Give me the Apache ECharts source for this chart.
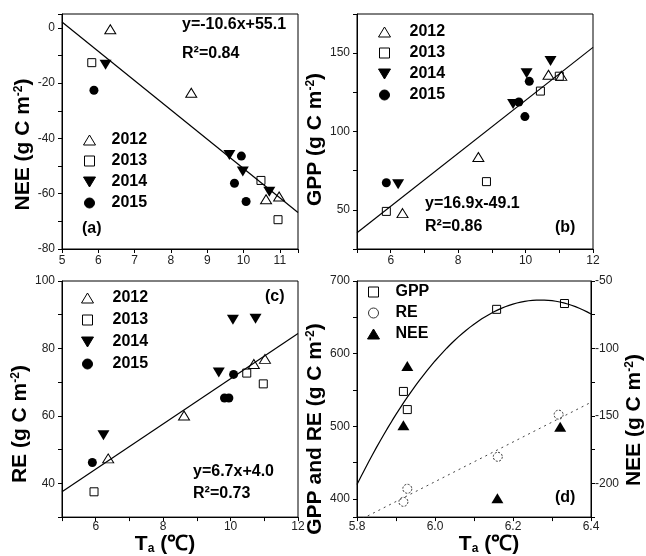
<!DOCTYPE html>
<html>
<head>
<meta charset="utf-8">
<script src="https://cdn.jsdelivr.net/npm/echarts@6/dist/echarts.min.js"></script>
<style>
html, body { margin: 0; padding: 0; background: #fff; }
#chart { width: 646px; height: 556px; }
</style>
</head>
<body>
<div id="chart"></div>
<script>
var FONT = 'Liberation Sans, Arial, Helvetica, sans-serif';

var years = ['2012', '2013', '2014', '2015'];

// (a) NEE vs Ta
var neeA2012 = [[6.33, -0.5], [8.56, -23.5], [10.62, -62.0], [10.98, -61.0]];
var neeA2013 = [[5.82, -12.6], [10.48, -55.2], [10.95, -69.4]];
var neeA2014 = [[6.20, -13.4], [9.61, -46.0], [9.98, -52.0], [10.71, -59.3]];
var neeA2015 = [[5.88, -22.6], [9.75, -56.2], [9.94, -46.4], [10.07, -62.8]];
var fitA = [-10.6, 55.1];

// (b) GPP vs Ta
var gppB2012 = [[6.35, 47.9], [8.60, 83.7], [10.68, 136.2], [11.06, 135.5]];
var gppB2013 = [[5.87, 49.0], [8.84, 68.0], [10.44, 125.8], [11.00, 135.3]];
var gppB2014 = [[6.22, 66.4], [9.63, 117.5], [10.03, 137.2], [10.74, 145.0]];
var gppB2015 = [[5.87, 67.3], [9.80, 118.8], [9.98, 109.5], [10.11, 132.0]];
var fitB = [16.9, -49.1];

// (c) RE vs Ta
var reC2012 = [[6.37, 47.4], [8.62, 60.1], [10.69, 75.4], [11.02, 76.9]];
var reC2013 = [[5.95, 37.5], [10.48, 72.7], [10.97, 69.5]];
var reC2014 = [[6.23, 54.3], [9.65, 72.9], [10.07, 88.5], [10.74, 88.8]];
var reC2015 = [[5.90, 46.2], [9.82, 65.3], [9.95, 65.3], [10.09, 72.3]];
var fitC = [6.7, 4.0];

var r2 = ['0.84', '0.86', '0.73'];

// (d) annual sums
var gppD = [[5.919, 548], [5.929, 523], [6.158, 661], [6.332, 669]];
var reD = [[5.919, 396], [5.929, 414], [6.161, 458], [6.317, 516]];
var neeD = [[5.929, -113], [5.919, -157], [6.160, -211], [6.321, -158]];

// tick labels
var ticksAX = [5, 6, 7, 8, 9, 10, 11];
var ticksAY = [-80, -60, -40, -20, 0];
var ticksBX = [6, 8, 10, 12];
var ticksBY = [50, 100, 150];
var ticksCY = [40, 60, 80, 100];
var ticksDX = [5.8, 6.0, 6.2, 6.4];
var ticksDY = [400, 500, 600, 700];
var ticksDY2 = [-200, -150, -100, -50];

var chart = echarts.init(document.getElementById('chart'));

var TRI_UP = 'path://M6,0L12,10L0,10Z';
var TRI_DOWN = 'path://M0,0L12,0L6,10Z';
var SQUARE = 'path://M0,0L10,0L10,10L0,10Z';

var open = {color: 'rgba(255,255,255,0)', borderColor: '#000', borderWidth: 1, opacity: 1};
var solid = {color: '#000', borderColor: '#000', borderWidth: 0, opacity: 1};
var marks = {
    '2012': {symbol: TRI_UP, size: [11, 9], style: open},
    '2013': {symbol: SQUARE, size: 8, style: open},
    '2014': {symbol: TRI_DOWN, size: [12, 10], style: solid},
    '2015': {symbol: 'circle', size: 9, style: solid}
};

function unitName(prefix) {
    return '{b|' + prefix + ' (g C m}{s|-2}{b|)}';
}

var nameRich = {
    b: {fontSize: 21, fontWeight: 'bold', fontFamily: FONT, color: '#000'},
    s: {fontSize: 12, fontWeight: 'bold', fontFamily: FONT, color: '#000', verticalAlign: 'top'},
    sub: {fontSize: 12, fontWeight: 'bold', fontFamily: FONT, color: '#000', verticalAlign: 'bottom'}
};

function axis(o) {
    var labels = o.labels, digits = o.digits || 0;
    return {
        type: 'value',
        gridIndex: o.grid,
        position: o.position,
        min: o.min,
        max: o.max,
        interval: o.interval,
        minInterval: o.fixInterval,
        maxInterval: o.fixInterval,
        name: o.name || '',
        nameLocation: 'middle',
        nameGap: o.nameGap || 0,
        nameTextStyle: {fontFamily: FONT, rich: nameRich, padding: o.namePad || 0},
        axisLine: {show: true, onZero: false, lineStyle: {color: '#000', width: 1}},
        axisTick: {show: true, inside: false, length: 4, lineStyle: {color: '#000', width: 1}},
        splitLine: {show: false},
        axisLabel: {
            margin: o.margin,
            color: '#222',
            fontSize: 12,
            fontFamily: FONT,
            formatter: function (v) {
                for (var i = 0; i < labels.length; i++) {
                    if (Math.abs(v - labels[i]) < 1e-6) return labels[i].toFixed(digits);
                }
                return '';
            }
        }
    };
}

function scatter(name, data, xi, yi, m) {
    m = m || marks[name];
    return {
        type: 'scatter', name: name, data: data,
        xAxisIndex: xi, yAxisIndex: yi,
        symbol: m.symbol, symbolSize: m.size,
        itemStyle: m.style, z: 3, silent: true
    };
}

function fitLine(fit, x0, x1, xi, yi) {
    return {
        type: 'line', name: 'fit' + xi,
        data: [[x0, fit[0] * x0 + fit[1]], [x1, fit[0] * x1 + fit[1]]],
        xAxisIndex: xi, yAxisIndex: yi,
        symbol: 'none', lineStyle: {color: '#000', width: 1.2}, z: 2, silent: true
    };
}

// least squares polynomial
function polyFit(pts, deg) {
    var n = deg + 1, m = [], i, j, k, x0 = 0;
    pts.forEach(function (p) { x0 += p[0]; });
    x0 /= pts.length;
    for (i = 0; i < n; i++) {
        m.push([]);
        for (j = 0; j <= n; j++) m[i].push(0);
    }
    pts.forEach(function (p) {
        var dx = p[0] - x0;
        for (i = 0; i < n; i++) {
            for (j = 0; j < n; j++) m[i][j] += Math.pow(dx, i + j);
            m[i][n] += p[1] * Math.pow(dx, i);
        }
    });
    for (i = 0; i < n; i++) {
        for (k = i + 1; k < n; k++) {
            var f = m[k][i] / m[i][i];
            for (j = i; j <= n; j++) m[k][j] -= f * m[i][j];
        }
    }
    var c = [];
    for (i = n - 1; i >= 0; i--) {
        var s = m[i][n];
        for (j = i + 1; j < n; j++) s -= m[i][j] * c[j];
        c[i] = s / m[i][i];
    }
    return function (x) {
        var y = 0;
        for (var i = 0; i < n; i++) y += c[i] * Math.pow(x - x0, i);
        return y;
    };
}

function curve(fn, x0, x1, steps) {
    var out = [];
    for (var i = 0; i <= steps; i++) {
        var x = x0 + (x1 - x0) * i / steps;
        out.push([x, fn(x)]);
    }
    return out;
}

var gppFit = polyFit(gppD, 2);
var reFit = polyFit(reD, 1);

function eq(fit) {
    return 'y=' + fit[0].toFixed(1) + 'x' + (fit[1] >= 0 ? '+' : '') + fit[1].toFixed(1);
}

function legend(left, top, names, itemWidth, gap) {
    return {
        left: left, top: top, orient: 'vertical', data: names,
        itemWidth: itemWidth, itemHeight: 10, itemGap: gap, padding: 0,
        selectedMode: false, symbolKeepAspect: true,
        itemStyle: {borderWidth: 1, opacity: 1},
        textStyle: {fontSize: 16, fontWeight: 'bold', color: '#000', fontFamily: FONT}
    };
}

function label(text, x, y) {
    return {
        type: 'text', left: x, top: y - 9, silent: true,
        style: {text: text, font: 'bold 16px ' + FONT, fill: '#000'}
    };
}

var gridStyle = {show: true, borderColor: '#000', borderWidth: 1, backgroundColor: 'rgba(0,0,0,0)', containLabel: false};

var option = {
    animation: false,
    backgroundColor: '#fff',
    grid: [
        Object.assign({left: 62, top: 14, width: 236, height: 235}, gridStyle),
        Object.assign({left: 357, top: 14, width: 236, height: 235}, gridStyle),
        Object.assign({left: 62, top: 281, width: 236, height: 237}, gridStyle),
        Object.assign({left: 357, top: 281, width: 236, height: 237}, gridStyle)
    ],
    xAxis: [
        axis({grid: 0, min: 5, max: 11.5, interval: 1, labels: ticksAX, margin: 6}),
        axis({grid: 1, min: 5, max: 12, interval: 1, labels: ticksBX, margin: 6}),
        axis({grid: 2, min: 5, max: 12, interval: 1, labels: ticksBX, margin: 4,
              name: '{b|T}{sub|a}{b| (℃)}', nameGap: 13, namePad: [0, 30, 0, 0]}),
        axis({grid: 3, min: 5.8, max: 6.4, interval: 0.1, labels: ticksDX, digits: 1, margin: 4,
              name: '{b|T}{sub|a}{b| (℃)}', nameGap: 13, namePad: [0, 0, 0, 30]})
    ],
    yAxis: [
        axis({grid: 0, min: -80, max: 5, interval: 10, labels: ticksAY, margin: 7,
              name: unitName('NEE'), nameGap: 24, namePad: [0, 26, 0, 0]}),
        axis({grid: 1, min: 25, max: 175, interval: 25, labels: ticksBY, margin: 7,
              name: unitName('GPP'), nameGap: 30, namePad: [0, 16, 0, 0]}),
        axis({grid: 2, min: 30, max: 100, interval: 10, labels: ticksCY, margin: 7,
              name: unitName('RE'), nameGap: 24, namePad: [0, 50, 0, 0]}),
        axis({grid: 3, min: 375, max: 700, fixInterval: 50, labels: ticksDY, margin: 7,
              name: unitName('GPP and RE'), nameGap: 30, namePad: [0, 60, 0, 0]}),
        axis({grid: 3, position: 'right', min: -225, max: -50, interval: 25, labels: ticksDY2, margin: 4,
              name: unitName('NEE'), nameGap: 33, namePad: [0, 42, 0, 0]})
    ],
    legend: [
        legend(83, 132, years, 34, 5),
        legend(378, 24, years, 40, 5),
        legend(81, 290, years, 40, 6),
        legend(367, 284, ['GPP', 'RE', 'NEE'], 34, 5)
    ],
    graphic: [
        label(eq(fitA), 182, 26),
        label('R²=' + r2[0], 182, 55),
        label('(a)', 82, 230),
        label(eq(fitB), 425, 205),
        label('R²=' + r2[1], 425, 228),
        label('(b)', 555, 229),
        label('(c)', 265, 298),
        label(eq(fitC), 193, 473),
        label('R²=' + r2[2], 193, 495),
        label('(d)', 555, 499)
    ],
    series: [
        fitLine(fitA, 5, 11.5, 0, 0),
        scatter('2012', neeA2012, 0, 0),
        scatter('2013', neeA2013, 0, 0),
        scatter('2014', neeA2014, 0, 0),
        scatter('2015', neeA2015, 0, 0),

        fitLine(fitB, 5, 12, 1, 1),
        scatter('2012', gppB2012, 1, 1),
        scatter('2013', gppB2013, 1, 1),
        scatter('2014', gppB2014, 1, 1),
        scatter('2015', gppB2015, 1, 1),

        fitLine(fitC, 5, 12, 2, 2),
        scatter('2012', reC2012, 2, 2),
        scatter('2013', reC2013, 2, 2),
        scatter('2014', reC2014, 2, 2),
        scatter('2015', reC2015, 2, 2),

        {
            type: 'line', name: 'gppFit', data: curve(gppFit, 5.8, 6.4, 60),
            xAxisIndex: 3, yAxisIndex: 3, symbol: 'none', clip: true,
            lineStyle: {color: '#000', width: 1.2}, z: 2, silent: true
        },
        {
            type: 'line', name: 'reFit', data: curve(reFit, 5.8, 6.4, 1),
            xAxisIndex: 3, yAxisIndex: 3, symbol: 'none', clip: true,
            lineStyle: {color: '#444', width: 1, type: [2, 4]}, z: 2, silent: true
        },
        scatter('GPP', gppD, 3, 3, {symbol: SQUARE, size: 8, style: open}),
        scatter('RE', reD, 3, 3, {symbol: 'circle', size: 9,
            style: {color: 'rgba(255,255,255,0)', borderColor: '#333', borderWidth: 1, borderType: [2, 1.5], opacity: 1}}),
        scatter('NEE', neeD, 3, 4, {symbol: TRI_UP, size: [12, 10], style: solid})
    ]
};

chart.setOption(option);
</script>
</body>
</html>
